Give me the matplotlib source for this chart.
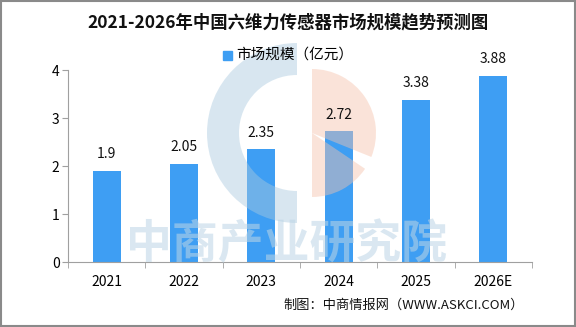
import matplotlib.pyplot as plt
from matplotlib.patches import Wedge, Rectangle
from matplotlib.transforms import Affine2D

plt.rcParams['font.family'] = ['Noto Sans CJK SC', 'DejaVu Sans']

years = ["2021", "2022", "2023", "2024", "2025", "2026E"]
values = [1.9, 2.05, 2.35, 2.72, 3.38, 3.88]
value_labels = ["1.9", "2.05", "2.35", "2.72", "3.38", "3.88"]
y_ticks = [0, 1, 2, 3, 4]

W, H = 576, 327
fig = plt.figure(figsize=(W / 100, H / 100), dpi=100)

def fx(px):
    return px / W

def fy(py):
    return 1 - py / H

ax = fig.add_axes([fx(68), fy(262), fx(532) - fx(68), fy(70) - fy(262)])

x = list(range(len(years)))
ax.bar(x, values, width=0.36, color="#3E9EF3", zorder=2)
for xi, v, lab in zip(x, values, value_labels):
    ax.text(xi, v + 0.2, lab, ha="center", va="bottom", fontsize=10, color="#111111", zorder=6)

ax.set_xlim(-0.5, len(years) - 0.5)
ax.set_ylim(0, 4)
ax.set_yticks(y_ticks)
ax.set_xticks(x)
ax.set_xticklabels(years, fontsize=10)
ax.set_xticks([i + 0.5 for i in range(-1, len(years))], minor=True)
ax.tick_params(axis="x", which="major", length=0, pad=9)
ax.tick_params(axis="x", which="minor", length=4, color="#A0A0A0", direction="out")
ax.tick_params(axis="y", length=4, color="#A0A0A0", labelsize=10, pad=2)
for s in ["top", "right"]:
    ax.spines[s].set_visible(False)
for s in ["left", "bottom"]:
    ax.spines[s].set_color("#A0A0A0")

fig.text(fx(288), fy(22), "2021-2026年中国六维力传感器市场规模趋势预测图",
         ha="center", va="center", fontsize=12.5, fontweight="bold", color="#111111")

# legend
fig.patches.append(Rectangle((fx(223), fy(60)), fx(9), 9 / H, transform=fig.transFigure,
                             color="#3E9EF3"))
fig.text(fx(236), fy(55), "市场规模（亿元）", ha="left", va="center", fontsize=10.5)

fig.text(fx(524), fy(305), "制图：中商情报网（WWW.ASKCI.COM）", ha="right", va="center",
         fontsize=9.5, color="#111111")

# watermark logo (pixel coords, top-left origin), drawn over bars but under labels
px = Affine2D().scale(1 / W, -1 / H).translate(0, 1) + fig.transFigure
cx, cy = 297, 133
for p in [
    Wedge((cx, cy), 90, 90, 270, width=32, color="#A9C9DF", alpha=0.45, lw=0),
    Wedge((cx + 15, cy), 64, 270, 22, color="#F6C3AC", alpha=0.45, lw=0),
    Wedge((cx + 15, cy), 64, 34, 90, color="#F6C3AC", alpha=0.45, lw=0),
]:
    p.set_transform(px)
    p.set_clip_on(False)
    p.set_zorder(4)
    ax.add_patch(p)
ax.text(287, 245, "中商产业研究院", transform=px, ha="center", va="center", fontsize=33,
        fontweight="bold", color="#BCD5E6", alpha=0.55, zorder=4, clip_on=False)

fig.patches.append(Rectangle((0.001, 0.002), 0.997, 0.995, transform=fig.transFigure,
                             fill=False, edgecolor="#8A8A8A", lw=1.5))

fig.savefig("out.png", dpi=100)
